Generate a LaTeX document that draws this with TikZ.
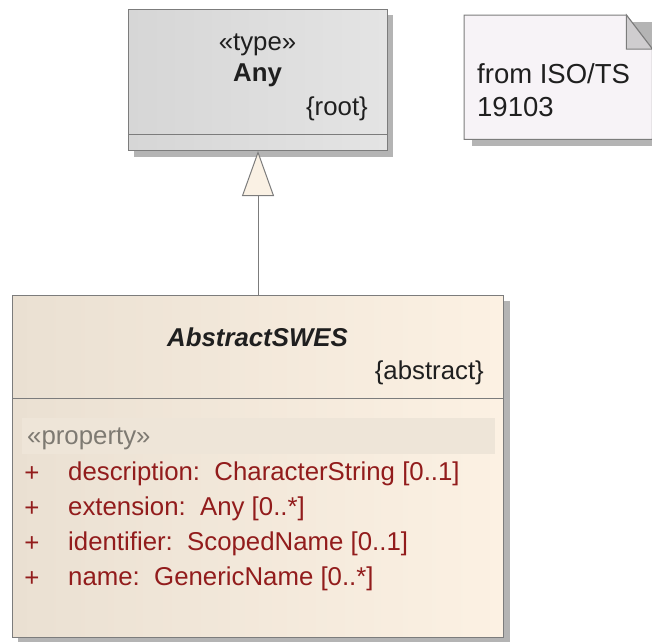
\documentclass[tikz,border=0pt]{standalone}
\usepackage{fontspec}
\setmainfont{Liberation Sans}
\usetikzlibrary{arrows.meta}
\definecolor{umlline}{HTML}{7C7C7C}
\definecolor{umlshadow}{HTML}{B4B4B4}
\definecolor{typeleft}{HTML}{D6D6D6}
\definecolor{typeright}{HTML}{E4E4E4}
\definecolor{clsleft}{HTML}{EAE0D2}
\definecolor{clsright}{HTML}{FCF1E3}
\definecolor{bandfill}{HTML}{EEE5D8}
\definecolor{stereogray}{HTML}{7E7A72}
\definecolor{attrred}{HTML}{921C1C}
\definecolor{notefill}{HTML}{F7F3F7}
\definecolor{foldfill}{HTML}{CFCDCF}
\definecolor{tipfill}{HTML}{FAF1E4}
\tikzset{
  classbox/.style={draw=umlline, line width=1pt, rectangle, anchor=north west, inner sep=0pt},
  boxshadow/.style={fill=umlshadow, draw=none},
  label/.style={inner sep=0pt, text=black!88},
  attr/.style={inner sep=0pt, anchor=west, text=attrred},
  generalization/.style={draw=umlline, line width=1pt,
    -{Triangle[width=32pt,length=45pt,fill=tipfill,line width=1pt]}},
}
\begin{document}
\begin{tikzpicture}[x=1pt,y=-1pt,font=\fontsize{25.8}{30}\selectfont]
\useasboundingbox (0,0) rectangle (652,641);

% drop shadows
\fill[boxshadow] (134,15) rectangle (393,157);
\fill[boxshadow] (18,301) rectangle (510,643);
\fill[boxshadow] (472,22) rectangle (652,146);

% type Any
\node[classbox, left color=typeleft, right color=typeright,
      minimum width=259pt, minimum height=141pt] (any) at (128,9) {};
\draw[umlline, line width=1pt] (any.west |- 0,134) -- (any.east |- 0,134);
\node[label] (anystereo) at (257.5,45) {«type»};
\node[label, font=\fontsize{25.8}{30}\selectfont\bfseries] (anyname) at (257.5,75) {Any};
\node[label, anchor=east] (anyroot) at (368,109) {\{root\}};

% note with folded corner
\node[inner sep=0pt, minimum width=188pt, minimum height=124pt, anchor=north west] (note) at (464,15) {};
\filldraw[fill=notefill, draw=umlline, line width=1pt]
  (note.north west) -- ([xshift=-26pt]note.north east) -- ([yshift=-34pt]note.north east)
  -- (note.south east) -- (note.south west) -- cycle;
\filldraw[fill=foldfill, draw=umlline, line width=1pt]
  ([xshift=-26pt]note.north east) -- ([xshift=-26pt,yshift=-34pt]note.north east)
  -- ([yshift=-34pt]note.north east) -- cycle;
\node[label, anchor=west, font=\fontsize{27.5}{30}\selectfont] (notel1) at (477,74) {from ISO/TS};
\node[label, anchor=west, font=\fontsize{27.5}{30}\selectfont] (notel2) at (477,107) {19103};

% class AbstractSWES
\node[classbox, left color=clsleft, right color=clsright,
      minimum width=491pt, minimum height=342pt] (abs) at (12,295) {};
\draw[umlline, line width=1pt] (abs.west |- 0,398) -- (abs.east |- 0,398);
\node[label, font=\fontsize{25.8}{30}\selectfont\bfseries\itshape] (absname) at (257.5,337) {AbstractSWES};
\node[label, anchor=east] (absconstr) at (484,373) {\{abstract\}};

\node[fill=bandfill, inner sep=0pt, minimum width=473pt, minimum height=36pt, anchor=north west] (propband) at (22,418) {};
\node[label, anchor=west, text=stereogray] (propstereo) at (27,439) {«property»};

\node[attr, anchor=center] (v1) at (32,474) {+};
\node[attr] (a1) at (68,474) {description:\ \ CharacterString [0..1]};
\node[attr, anchor=center] (v2) at (32,509) {+};
\node[attr] (a2) at (68,509) {extension:\ \ Any [0..*]};
\node[attr, anchor=center] (v3) at (32,544) {+};
\node[attr] (a3) at (68,544) {identifier:\ \ ScopedName [0..1]};
\node[attr, anchor=center] (v4) at (32,579) {+};
\node[attr] (a4) at (68,579) {name:\ \ GenericName [0..*]};

% generalization
\draw[generalization] (abs.north) -- (any.south);
\end{tikzpicture}
\end{document}
